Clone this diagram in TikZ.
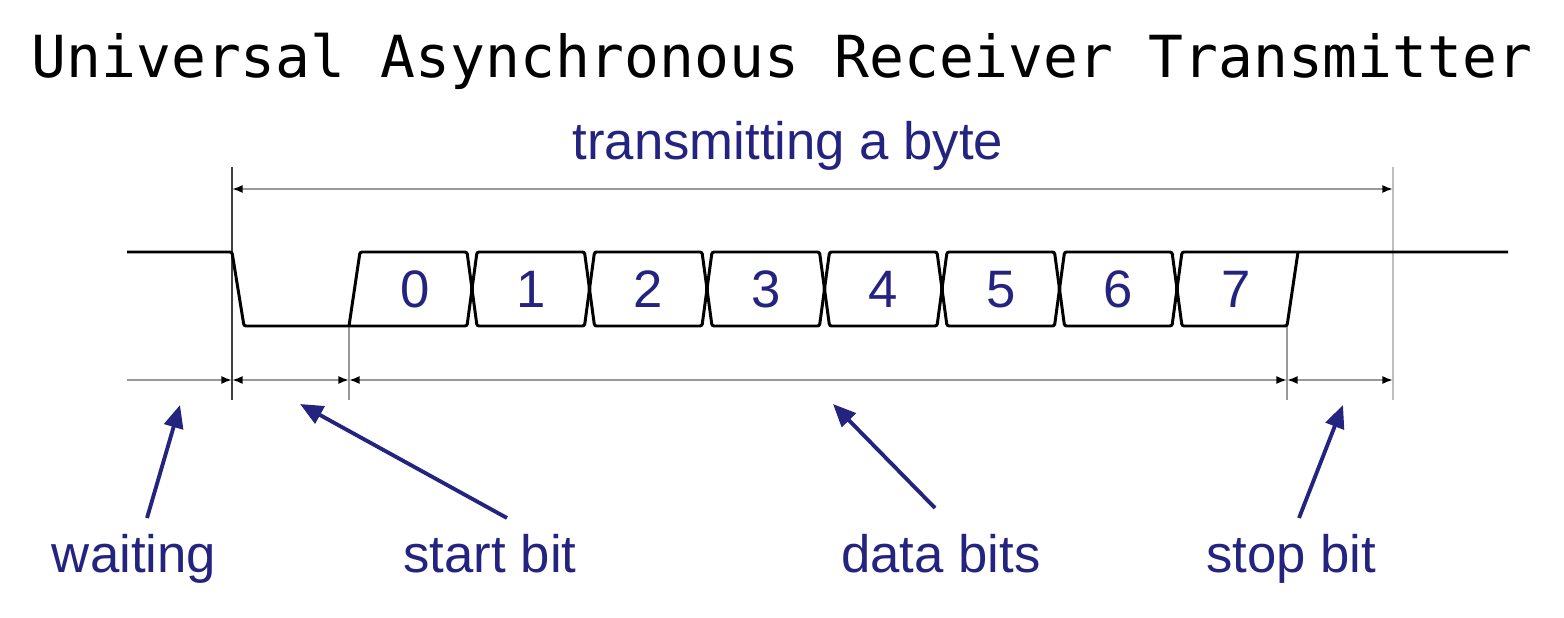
\documentclass[tikz,border=0pt]{standalone}
\usepackage{fontspec}
\setmainfont{Liberation Sans}
\setmonofont{DejaVu Sans Mono}
\usetikzlibrary{arrows.meta}
\definecolor{uartnavy}{RGB}{36,36,128}
\def\wire{\draw[line width=1.7pt,rounded corners=1.2pt]}
\def\guide{\draw[black!40,line width=1pt]}
\def\dimtip{Latex[length=6pt,width=4.5pt,black]}
\tikzset{
  lbl/.style={text=uartnavy,font=\fontsize{30}{36}\selectfont,inner sep=0pt,anchor=base},
  ptr/.style={uartnavy,line width=2.2pt,-{Triangle[length=13pt,width=11pt]}},
  dim/.style={black!40,line width=1pt}
}

\begin{document}
\begin{tikzpicture}[x=0.02cm,y=-0.02cm]
  \useasboundingbox (0,0) rectangle (1564,618);
  \node[font=\ttfamily\fontsize{33}{40}\selectfont,anchor=base,inner sep=0pt] (title) at (782,78) {Universal Asynchronous Receiver Transmitter};

  \guide[black!75] (232,167) -- (232,400);
  \guide (349,326) -- (349,400);
  \guide (1287,326) -- (1287,400);
  \guide[black!25] (1393,167) -- (1393,400);

  \coordinate (t0) at (232,189);
  \coordinate (t1) at (1393,189);
  \coordinate (b0) at (127,380);
  \coordinate (b1) at (232,380);
  \coordinate (b2) at (349,380);
  \coordinate (b3) at (1287,380);
  \coordinate (b4) at (1393,380);
  \draw[dim,{\dimtip}-{\dimtip}] (t0) -- (t1);
  \draw[dim,-{\dimtip}] (b0) -- (b1);
  \draw[dim,{\dimtip}-{\dimtip}] (b1) -- (b2);
  \draw[dim,{\dimtip}-{\dimtip}] (b2) -- (b3);
  \draw[dim,{\dimtip}-{\dimtip}] (b3) -- (b4);

  \wire (127,252) -- (232,252) -- (244,326) -- (467,326) -- (472,289) -- (467,252) -- (360,252) -- (349,326);
  \foreach \i in {1,...,6}{
    \pgfmathsetmacro\ca{472+117.5*(\i-1)}
    \pgfmathsetmacro\cb{472+117.5*\i}
    \wire (\ca,289) -- (\ca+5,252) -- (\cb-5,252) -- (\cb,289) -- (\cb-5,326) -- (\ca+5,326) -- cycle;
    \node[lbl] (bit\i) at ({(\ca+\cb)/2},307) {\i};
  }
  \wire (1508,252) -- (1182,252) -- (1177,289) -- (1182,326) -- (1287,326) -- (1298,252);
  \node[lbl] (bit0) at (415,307) {0};
  \node[lbl] (bit7) at (1236,307) {7};

  \node[lbl] (byte) at (788,160) {transmitting a byte};
  \node[lbl] (waiting) at (134,572) {waiting};
  \node[lbl] (startbit) at (490,572) {start bit};
  \node[lbl] (databits) at (941,572) {data bits};
  \node[lbl] (stopbit) at (1291,572) {stop bit};

  \coordinate (waitingtail) at (147,518);
  \coordinate (waitingtip) at (180,405);
  \coordinate (starttail) at (507,518);
  \coordinate (starttip) at (300,404);
  \coordinate (datatail) at (935,508);
  \coordinate (datatip) at (833,404);
  \coordinate (stoptail) at (1299,518);
  \coordinate (stoptip) at (1343,405);
  \draw[ptr] (waitingtail) -- (waitingtip);
  \draw[ptr] (starttail) -- (starttip);
  \draw[ptr] (datatail) -- (datatip);
  \draw[ptr] (stoptail) -- (stoptip);
\end{tikzpicture}
\end{document}
